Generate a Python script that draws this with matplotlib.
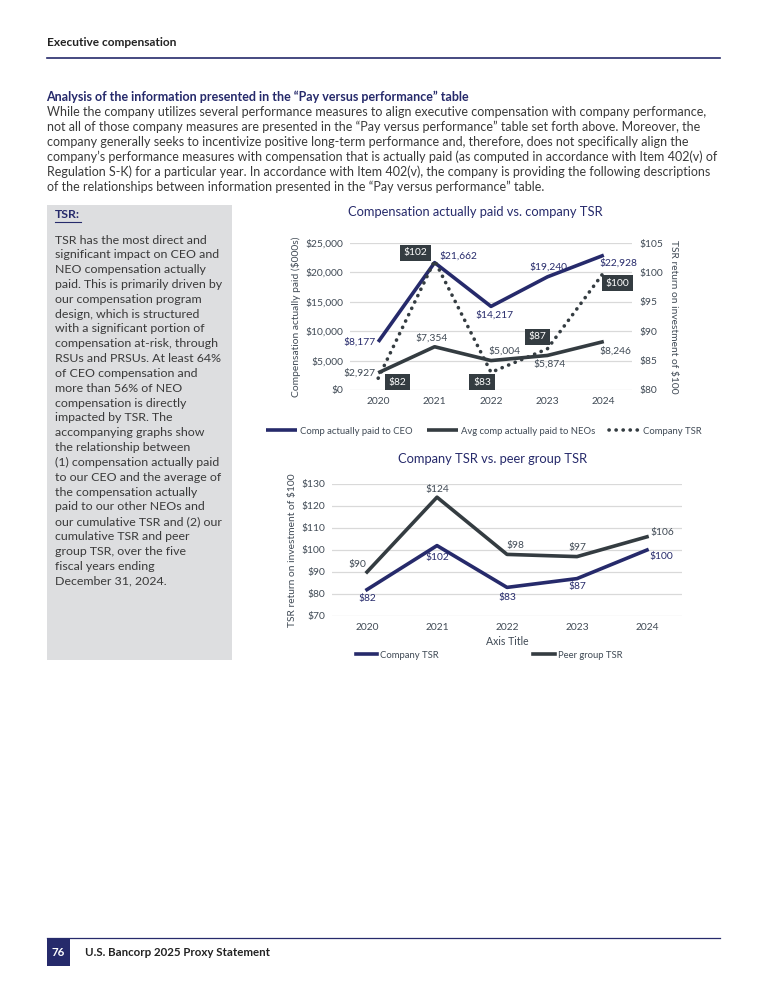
import matplotlib
matplotlib.use("Agg")
import matplotlib.pyplot as plt
from matplotlib.patches import Rectangle
from matplotlib.lines import Line2D

plt.rcParams['font.family'] = ['Lato', 'DejaVu Sans']

# ---------------- data ----------------
years = ["2020", "2021", "2022", "2023", "2024"]
ceo_cap = [8177, 21662, 14217, 19240, 22928]
neo_cap = [2927, 7354, 5004, 5874, 8246]
company_tsr = [82, 102, 83, 87, 100]
peer_tsr = [90, 124, 98, 97, 106]

left_ticks = [0, 5000, 10000, 15000, 20000, 25000]
right_ticks = [80, 85, 90, 95, 100, 105]
tsr_ticks = [70, 80, 90, 100, 110, 120, 130]

NAVY = '#262a6b'
DARK = '#343c41'
GRID = '#d9d9d9'
TEXT = '#3a3a3a'
LABEL = '#404a55'
BOXGRAY = '#dddee0'

W, H = 768, 1000
fig = plt.figure(figsize=(W / 100, H / 100), dpi=100)


def fx(x):
    return x / W


def fy(y):
    return 1 - y / H


def txt(x, y, s, **kw):
    fig.text(fx(x), fy(y), s, **kw)


# ---------------- page header ----------------
txt(47, 42, "Executive compensation", fontsize=8.6, fontweight='bold', color='#222222', va='center')
fig.add_artist(Line2D([fx(47), fx(720)], [fy(58), fy(58)], color=NAVY, lw=1.2))

txt(46.5, 97, "Analysis of the information presented in the \u201cPay versus performance\u201d table",
    fontsize=9.0, fontweight='bold', color=NAVY, va='center')
para = [
    "While the company utilizes several performance measures to align executive compensation with company performance,",
    "not all of those company measures are presented in the \u201cPay versus performance\u201d table set forth above. Moreover, the",
    "company generally seeks to incentivize positive long-term performance and, therefore, does not specifically align the",
    "company\u2019s performance measures with compensation that is actually paid (as computed in accordance with Item 402(v) of",
    "Regulation S-K) for a particular year. In accordance with Item 402(v), the company is providing the following descriptions",
    "of the relationships between information presented in the \u201cPay versus performance\u201d table.",
]
for i, line in enumerate(para):
    txt(47, 112 + i * 14.9, line, fontsize=9.0, color=TEXT, va='center')

# ---------------- gray side box ----------------
fig.add_artist(Rectangle((fx(47), fy(660)), fx(232) - fx(47), fy(205) - fy(660),
                         transform=fig.transFigure, facecolor=BOXGRAY, edgecolor='none', zorder=0))
txt(55, 215, "TSR:", fontsize=8.9, fontweight='bold', color=NAVY, va='center')
fig.add_artist(Line2D([fx(55), fx(81)], [fy(222), fy(222)], color=NAVY, lw=0.8))
box_lines = [
    "TSR has the most direct and",
    "significant impact on CEO and",
    "NEO compensation actually",
    "paid. This is primarily driven by",
    "our compensation program",
    "design, which is structured",
    "with a significant portion of",
    "compensation at-risk, through",
    "RSUs and PRSUs. At least 64%",
    "of CEO compensation and",
    "more than 56% of NEO",
    "compensation is directly",
    "impacted by TSR. The",
    "accompanying graphs show",
    "the relationship between",
    "(1) compensation actually paid",
    "to our CEO and the average of",
    "the compensation actually",
    "paid to our other NEOs and",
    "our cumulative TSR and (2) our",
    "cumulative TSR and peer",
    "group TSR, over the five",
    "fiscal years ending",
    "December 31, 2024.",
]
for i, line in enumerate(box_lines):
    txt(55, 240 + i * 14.83, line, fontsize=8.9, color=TEXT, va='center')

# ---------------- chart 1 ----------------
ax1 = fig.add_axes([fx(350), fy(390), fx(632) - fx(350), fy(243) - fy(390)])
x = list(range(len(years)))
ax1.set_xlim(-0.5, len(years) - 0.5)
ax1.set_ylim(0, 25000)
ax1.set_yticks(left_ticks)
ax1.set_yticklabels([f"${v:,}" for v in left_ticks])
ax1.set_xticks(x)
ax1.set_xticklabels(years)
ax1.grid(axis='y', color=GRID, lw=0.9)
ax1.set_axisbelow(True)
for s in ax1.spines.values():
    s.set_visible(False)
ax1.tick_params(length=0, labelsize=7.4, labelcolor=LABEL, pad=5)
ax1.set_ylabel("Compensation actually paid ($000s)", fontsize=7.4, color=LABEL, labelpad=3)

l_ceo, = ax1.plot(x, ceo_cap, color=NAVY, lw=2.6, solid_capstyle='butt', zorder=3)
l_neo, = ax1.plot(x, neo_cap, color=DARK, lw=2.6, solid_capstyle='butt', zorder=3)

ax1r = ax1.twinx()
ax1r.set_ylim(80, 105)
ax1r.set_yticks(right_ticks)
ax1r.set_yticklabels([f"${v}" for v in right_ticks])
for s in ax1r.spines.values():
    s.set_visible(False)
ax1r.tick_params(length=0, labelsize=7.4, labelcolor=LABEL, pad=5)
ax1r.set_ylabel("TSR return on investment of $100", fontsize=7.4, color=LABEL, rotation=270, labelpad=11)
l_tsr, = ax1r.plot(x, company_tsr, color=DARK, lw=2.6, linestyle=(0, (0.05, 1.9)),
                   dash_capstyle='round', zorder=3)

ceo_off = [(-3, 0, 'right'), (5, 7, 'left'), (4, -9, 'center'), (1, 10, 'center'), (15, -8, 'center')]
neo_off = [(-3, 0, 'right'), (-3, 9, 'center'), (13, 10, 'center'), (2, -9, 'center'), (12, -10, 'center')]
tsr_off = [(19, -4), (-19, 8), (-9, -10), (-10, 12), (14, -11)]
for i in x:
    dx, dy, ha = ceo_off[i]
    ax1.annotate(f"${ceo_cap[i]:,}", (i, ceo_cap[i]), xytext=(dx, dy), textcoords='offset pixels',
                 ha=ha, va='center', fontsize=7.4, color=NAVY, zorder=5)
    dx, dy, ha = neo_off[i]
    ax1.annotate(f"${neo_cap[i]:,}", (i, neo_cap[i]), xytext=(dx, dy), textcoords='offset pixels',
                 ha=ha, va='center', fontsize=7.4, color=LABEL, zorder=5)
    dx, dy = tsr_off[i]
    ax1r.annotate(f"${company_tsr[i]}", (i, company_tsr[i]), xytext=(dx, dy), textcoords='offset pixels',
                  ha='center', va='center', fontsize=7.4, color='white', zorder=6,
                  bbox=dict(boxstyle='square,pad=0.35', fc=DARK, ec='none'))

txt(475, 212, "Compensation actually paid vs. company TSR", fontsize=9.3, color=NAVY, ha='center', va='center')
leg1 = fig.legend([l_ceo, l_neo, l_tsr],
                  ["Comp actually paid to CEO", "Avg comp actually paid to NEOs", "Company TSR"],
                  loc='center', bbox_to_anchor=(fx(484), fy(431)), ncol=3, frameon=False,
                  fontsize=6.8, handlelength=3.3, handletextpad=0.3, columnspacing=1.5)
for t in leg1.get_texts():
    t.set_color(LABEL)

# ---------------- chart 2 ----------------
ax2 = fig.add_axes([fx(332), fy(616), fx(682) - fx(332), fy(484) - fy(616)])
ax2.set_xlim(-0.5, len(years) - 0.5)
ax2.set_ylim(70, 130)
ax2.set_yticks(tsr_ticks)
ax2.set_yticklabels([f"${v}" for v in tsr_ticks])
ax2.set_xticks(x)
ax2.set_xticklabels(years)
ax2.grid(axis='y', color=GRID, lw=0.9)
ax2.set_axisbelow(True)
for s in ax2.spines.values():
    s.set_visible(False)
ax2.tick_params(length=0, labelsize=7.4, labelcolor=LABEL, pad=5)
ax2.set_ylabel("TSR return on investment of $100", fontsize=7.4, color=LABEL, labelpad=3)
ax2.set_xlabel("Axis Title", fontsize=7.6, color=LABEL, labelpad=3)

l_co, = ax2.plot(x, company_tsr, color=NAVY, lw=2.6, zorder=3)
l_peer, = ax2.plot(x, peer_tsr, color=DARK, lw=2.6, zorder=3)

peer_off = [(-10, 8, 'center'), (0, 8, 'center'), (8, 9, 'center'), (0, 9, 'center'), (15, 4, 'center')]
co_off = [(0, -9, 'center'), (0, -12, 'center'), (0, -10, 'center'), (0, -8, 'center'), (14, -6, 'center')]
for i in x:
    dx, dy, ha = peer_off[i]
    ax2.annotate(f"${peer_tsr[i]}", (i, peer_tsr[i]), xytext=(dx, dy), textcoords='offset pixels',
                 ha=ha, va='center', fontsize=7.4, color=LABEL, zorder=5)
    dx, dy, ha = co_off[i]
    ax2.annotate(f"${company_tsr[i]}", (i, company_tsr[i]), xytext=(dx, dy), textcoords='offset pixels',
                 ha=ha, va='center', fontsize=7.4, color=NAVY, zorder=5)

txt(493, 459, "Company TSR vs. peer group TSR", fontsize=9.3, color=NAVY, ha='center', va='center')
leg2 = fig.legend([l_co, l_peer], ["Company TSR", "Peer group TSR"],
                  loc='center', bbox_to_anchor=(fx(489), fy(655)), ncol=2, frameon=False,
                  fontsize=6.8, handlelength=2.3, handletextpad=0.3, columnspacing=10.0)
for t in leg2.get_texts():
    t.set_color(LABEL)

# ---------------- footer ----------------
fig.add_artist(Line2D([fx(47), fx(720)], [fy(938), fy(938)], color=NAVY, lw=0.9))
fig.add_artist(Rectangle((fx(47), fy(966)), fx(70) - fx(47), fy(938) - fy(966),
                         transform=fig.transFigure, facecolor=NAVY, edgecolor='none'))
txt(58.5, 952, "76", fontsize=8.3, fontweight='bold', color='white', ha='center', va='center')
txt(85, 952, "U.S. Bancorp 2025 Proxy Statement", fontsize=8.3, fontweight='bold', color='#222222', va='center')

fig.savefig("out.png", dpi=100)
